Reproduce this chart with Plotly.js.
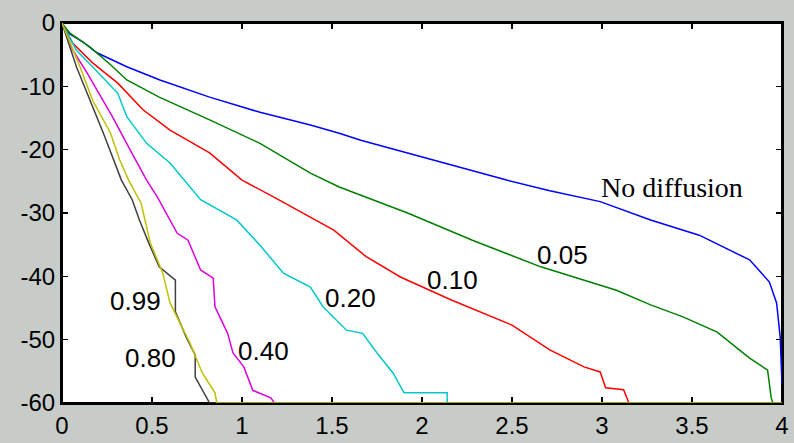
<!DOCTYPE html>
<html><head><meta charset="utf-8">
<script src="https://cdn.plot.ly/plotly-3.0.1.min.js"></script>
<style>html,body{margin:0;padding:0;background:#c8ccc8;}#chart{width:794px;height:443px;}</style>
</head><body><div id="chart"></div>
<script>
// Series: "No diffusion" and diffusion coefficients
const blueX = [0,0.03,0.117,0.194,0.36,0.544,0.82,1.1,1.38,1.54,1.66,2.1,2.47,2.71,2.99,3.27,3.54,3.82,3.93,3.97,3.99,4.0];
const blueY = [0,-1.5,-3.0,-4.7,-6.9,-9.0,-11.7,-14.1,-16.1,-17.4,-18.5,-21.9,-24.8,-26.5,-28.2,-31.1,-33.5,-37.4,-40.9,-44.2,-49.6,-57];

const greenX = [0,0.044,0.156,0.27,0.36,0.54,0.82,1.1,1.38,1.54,1.92,2.28,2.66,2.93,3.08,3.27,3.45,3.64,3.82,3.92,3.94,3.95,4];
const greenY = [0,-1.6,-3.8,-6.6,-9.0,-11.7,-15.3,-19.0,-23.7,-25.9,-30.0,-34.3,-38.5,-40.9,-42.2,-44.5,-46.4,-48.8,-52.9,-54.8,-59.2,-60,-60];

const redX = [0,0.06,0.17,0.31,0.45,0.6,0.82,1.0,1.19,1.51,1.69,1.88,2.16,2.5,2.71,2.9,2.99,3.02,3.12,3.14,3.15,4];
const redY = [0,-3.2,-6.3,-9.5,-13.7,-16.9,-20.5,-24.8,-27.7,-32.7,-36.9,-40.1,-43.7,-47.7,-51.6,-54.3,-55.1,-57.6,-57.9,-59.2,-60,-60];

const cyanX = [0,0.08,0.17,0.31,0.36,0.47,0.6,0.77,0.97,1.1,1.23,1.38,1.45,1.58,1.67,1.75,1.84,1.9,2.14,2.14,4];
const cyanY = [0,-4.3,-6.9,-11.1,-14.8,-19.0,-22.1,-27.9,-31.1,-35.1,-39.5,-41.7,-44.8,-48.5,-49,-52.1,-55.3,-58.4,-58.4,-60,-60];

const magentaX = [0,0.06,0.14,0.23,0.28,0.38,0.47,0.53,0.6,0.64,0.7,0.77,0.84,0.85,0.92,0.95,1.01,1.06,1.16,1.18,4];
const magentaY = [0,-4.3,-7.9,-12.2,-14.8,-20.1,-24.8,-27.5,-31.0,-33.2,-34.3,-39,-40.3,-44.8,-49,-52.1,-54.3,-58,-59.2,-60,-60];

const blackX = [0,0.08,0.23,0.33,0.39,0.43,0.48,0.54,0.63,0.63,0.69,0.74,0.74,0.8,0.82,4];
const blackY = [0,-6.9,-17.4,-24.8,-27.9,-31.1,-34.6,-38.5,-40.6,-45.6,-49.6,-52.4,-55.9,-59,-60,-60];

const yellowX = [0,0.1,0.17,0.27,0.32,0.37,0.44,0.49,0.56,0.6,0.71,0.78,0.85,0.86,4];
const yellowY = [0,-6.9,-12.2,-17.4,-21.6,-24.8,-28.5,-34.7,-39.5,-44.2,-50.5,-55.3,-58.4,-60,-60];

const labelText = ["No diffusion","0.05","0.10","0.20","0.40","0.99","0.80"];
const labelX = [3.39,2.78,2.17,1.6,1.12,0.41,0.49];
const labelY = [-25.9,-36.6,-40.6,-43.4,-51.8,-43.9,-52.9];

const xTicks = [0,0.5,1,1.5,2,2.5,3,3.5,4];
const xTickText = ["0","0.5","1","1.5","2","2.5","3","3.5","4"];
const yTicks = [-60,-50,-40,-30,-20,-10,0];
const yTickText = ["-60","-50","-40","-30","-20","-10","0"];

const series = [
  [blueX, blueY, "#0000ff"],
  [greenX, greenY, "#008000"],
  [redX, redY, "#ff0000"],
  [cyanX, cyanY, "#00c8c8"],
  [magentaX, magentaY, "#dd00dd"],
  [blackX, blackY, "#404040"],
  [yellowX, yellowY, "#c0c000"]
];
const traces = series.map(s => ({x: s[0], y: s[1], mode: "lines", type: "scatter",
  line: {color: s[2], width: 1.5}, hoverinfo: "skip", showlegend: false, cliponaxis: false}));

const annotations = labelText.map((t, i) => ({
  x: labelX[i], y: labelY[i], text: t, showarrow: false, xref: "x", yref: "y",
  font: i === 0 ? {family: "Liberation Serif, Times New Roman, serif", size: 28, color: "#000"}
               : {family: "Liberation Sans, Arial, sans-serif", size: 26, color: "#000"}
}));

const axisCommon = {showline: true, linecolor: "#000", linewidth: 2, mirror: "allticks",
  ticks: "inside", ticklen: 6, tickwidth: 1.5, tickcolor: "#000", showgrid: false, zeroline: false,
  tickfont: {family: "Liberation Sans, Arial, sans-serif", size: 24, color: "#000"}};

const layout = {
  width: 794, height: 443,
  margin: {l: 62, r: 12, t: 23, b: 40, pad: 0},
  paper_bgcolor: "#c8ccc8", plot_bgcolor: "#ffffff",
  showlegend: false,
  xaxis: Object.assign({}, axisCommon, {range: [0, 4], tickvals: xTicks, ticktext: xTickText, layer: "below traces"}),
  yaxis: Object.assign({}, axisCommon, {range: [-60, 0], tickvals: yTicks, ticktext: yTickText, layer: "below traces"}),
  annotations: annotations,
  shapes: [{type: "rect", xref: "paper", yref: "paper", x0: 0, x1: 1, y0: 0, y1: 1,
            line: {color: "#000", width: 2}, layer: "below"}]
};
Plotly.newPlot("chart", traces, layout, {staticPlot: true, displayModeBar: false});
</script></body></html>
